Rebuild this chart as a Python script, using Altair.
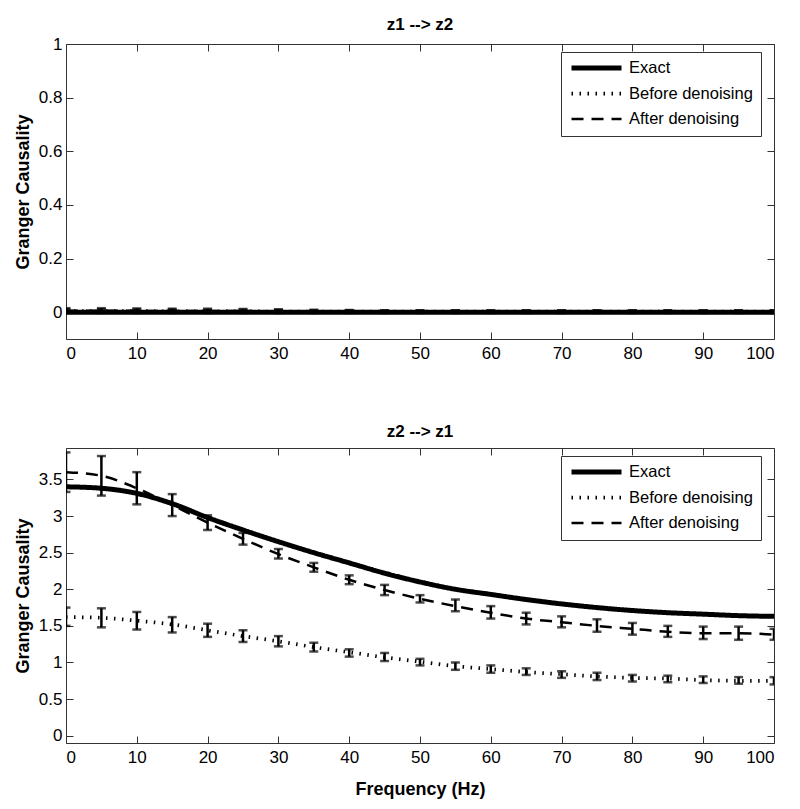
import altair as alt
import pandas as pd

series_names = ["Exact", "Before denoising", "After denoising"]
freq = [0, 5, 10, 15, 20, 25, 30, 35, 40, 45, 50, 55, 60, 65, 70, 75, 80, 85, 90, 95, 100]
x_ticks = [0, 10, 20, 30, 40, 50, 60, 70, 80, 90, 100]

# ---- panel 1: z1 --> z2 ----
top_exact = [0.0, 0.0, 0.0, 0.0, 0.0, 0.0, 0.0, 0.0, 0.0, 0.0, 0.0,
             0.0, 0.0, 0.0, 0.0, 0.0, 0.0, 0.0, 0.0, 0.0, 0.0]
top_before = [0.004, 0.004, 0.004, 0.003, 0.003, 0.003, 0.002, 0.002, 0.002, 0.002, 0.002,
              0.002, 0.002, 0.002, 0.002, 0.002, 0.002, 0.002, 0.002, 0.002, 0.002]
top_before_lo = [-0.002, -0.002, -0.002, -0.002, -0.002, -0.002, -0.002, -0.002, -0.002, -0.002, -0.002,
                 -0.002, -0.002, -0.002, -0.002, -0.002, -0.002, -0.002, -0.002, -0.002, -0.002]
top_before_hi = [0.011, 0.011, 0.010, 0.010, 0.009, 0.009, 0.008, 0.007, 0.007, 0.006, 0.006,
                 0.006, 0.006, 0.006, 0.006, 0.006, 0.006, 0.006, 0.006, 0.006, 0.006]
top_after = [0.005, 0.005, 0.005, 0.004, 0.004, 0.004, 0.003, 0.003, 0.003, 0.003, 0.003,
             0.003, 0.003, 0.003, 0.003, 0.003, 0.003, 0.003, 0.003, 0.003, 0.003]
top_after_lo = [-0.003, -0.003, -0.003, -0.003, -0.003, -0.003, -0.003, -0.003, -0.003, -0.003, -0.003,
                -0.003, -0.003, -0.003, -0.003, -0.003, -0.003, -0.003, -0.003, -0.003, -0.003]
top_after_hi = [0.015, 0.015, 0.014, 0.013, 0.013, 0.012, 0.011, 0.009, 0.008, 0.007, 0.007,
                0.007, 0.007, 0.007, 0.007, 0.007, 0.007, 0.007, 0.007, 0.007, 0.007]
top_y_ticks = [0, 0.2, 0.4, 0.6, 0.8, 1]
top_y_domain = [-0.1, 1.0]

# ---- panel 2: z2 --> z1 ----
bot_exact = [3.40, 3.38, 3.31, 3.17, 2.98, 2.81, 2.65, 2.50, 2.36, 2.22, 2.10,
             2.00, 1.93, 1.86, 1.80, 1.75, 1.71, 1.68, 1.66, 1.64, 1.63]
bot_before = [1.62, 1.61, 1.57, 1.52, 1.44, 1.36, 1.29, 1.21, 1.14, 1.07, 1.01,
              0.95, 0.91, 0.87, 0.84, 0.81, 0.79, 0.78, 0.76, 0.75, 0.75]
bot_before_lo = [1.50, 1.48, 1.45, 1.41, 1.35, 1.28, 1.22, 1.15, 1.08, 1.02, 0.96,
                 0.90, 0.86, 0.83, 0.79, 0.76, 0.74, 0.73, 0.72, 0.71, 0.70]
bot_before_hi = [1.75, 1.74, 1.69, 1.62, 1.53, 1.44, 1.36, 1.27, 1.18, 1.13, 1.05,
                 1.00, 0.96, 0.92, 0.88, 0.86, 0.83, 0.82, 0.81, 0.80, 0.80]
bot_after = [3.60, 3.55, 3.38, 3.15, 2.91, 2.69, 2.48, 2.30, 2.13, 1.99, 1.87,
             1.77, 1.68, 1.60, 1.55, 1.50, 1.46, 1.42, 1.40, 1.40, 1.38]
bot_after_lo = [3.33, 3.28, 3.16, 3.00, 2.81, 2.61, 2.42, 2.24, 2.07, 1.92, 1.82,
                1.70, 1.60, 1.52, 1.48, 1.42, 1.38, 1.35, 1.32, 1.31, 1.31]
bot_after_hi = [3.87, 3.82, 3.60, 3.30, 3.01, 2.77, 2.55, 2.36, 2.19, 2.06, 1.92,
                1.86, 1.77, 1.68, 1.63, 1.59, 1.54, 1.50, 1.49, 1.49, 1.46]
bot_y_ticks = [0, 0.5, 1, 1.5, 2, 2.5, 3, 3.5]
bot_y_domain = [-0.1, 3.93]

LABEL_FONT = "Liberation Sans"
TITLE_FONT = "Liberation Sans"
FRAME = "#333333"

dash_scale = alt.Scale(domain=series_names, range=[[1, 0], [1.5, 6.5], [12, 8]])
width_scale = alt.Scale(domain=series_names, range=[5, 2.5, 3])


def line_frame(exact, before, after):
    rows = []
    for name, vals in zip(series_names, [exact, before, after]):
        for f, v in zip(freq, vals):
            rows.append({"freq": f, "value": v, "series": name})
    return pd.DataFrame(rows)


def err_frame(before_lo, before_hi, after_lo, after_hi):
    rows = []
    for name, lo, hi in [("Before denoising", before_lo, before_hi),
                         ("After denoising", after_lo, after_hi)]:
        for f, a, b in zip(freq, lo, hi):
            rows.append({"freq": f, "lo": a, "hi": b, "series": name})
    return pd.DataFrame(rows)


def panel(title, lines, errs, y_domain, y_ticks, x_title, title_offset):
    xs = alt.Scale(domain=[0, 100], nice=False, zero=False)
    ys = alt.Scale(domain=y_domain, nice=False, zero=False)
    legend = alt.Legend(
        title=None, orient="none", legendX=495, legendY=8,
        symbolType="stroke", symbolSize=2500, clipHeight=16,
        rowPadding=8.5, padding=8, labelOffset=5,
        labelFont=LABEL_FONT, labelFontSize=16.5, labelColor="black",
        fillColor="white", strokeColor=FRAME, symbolStrokeColor="black",
    )
    x_main = alt.X("freq:Q", scale=xs, axis=alt.Axis(
        orient="bottom", values=x_ticks, offset=-7, tickSize=7, labelPadding=6,
        title=x_title if x_title else None, titlePadding=15,
    ))
    y_main = alt.Y("value:Q", scale=ys, axis=alt.Axis(
        orient="left", values=y_ticks, offset=-7, tickSize=7, labelPadding=4,
        format="~g", title="Granger Causality", titlePadding=6,
    ))
    line_layer = alt.Chart(lines).mark_line(color="black", clip=True, interpolate="monotone").encode(
        x=x_main, y=y_main,
        strokeDash=alt.StrokeDash("series:N", scale=dash_scale, legend=legend),
        strokeWidth=alt.StrokeWidth("series:N", scale=width_scale, legend=legend),
        detail="series:N",
    )
    tick_layer = alt.Chart(lines).mark_line(opacity=0).encode(
        x=alt.X("freq:Q", scale=xs, axis=alt.Axis(
            orient="top", values=x_ticks, offset=-7, tickSize=7, labels=False, title=None)),
        y=alt.Y("value:Q", scale=ys, axis=alt.Axis(
            orient="right", values=y_ticks, offset=-7, tickSize=7, labels=False, title=None)),
        detail="series:N",
    )
    x_none = alt.X("freq:Q", scale=xs, axis=None)
    bars = alt.Chart(errs).mark_rule(color="black", strokeWidth=2.5, clip=True).encode(
        x=x_none,
        y=alt.Y("lo:Q", scale=ys, axis=None),
        y2="hi:Q",
    )
    cap_lo = alt.Chart(errs).mark_tick(color="black", orient="horizontal", size=9,
                                       thickness=2.5, clip=True).encode(
        x=x_none, y=alt.Y("lo:Q", scale=ys, axis=None))
    cap_hi = alt.Chart(errs).mark_tick(color="black", orient="horizontal", size=9,
                                       thickness=2.5, clip=True).encode(
        x=x_none, y=alt.Y("hi:Q", scale=ys, axis=None))
    return alt.layer(tick_layer, bars, cap_lo, cap_hi, line_layer).resolve_axis(
        x="independent", y="independent"
    ).properties(
        width=708, height=295,
        title=alt.TitleParams(title, font=TITLE_FONT, fontSize=17, fontWeight="bold",
                              color="black", offset=title_offset, anchor="middle"),
    )


top = panel("z1 --> z2",
            line_frame(top_exact, top_before, top_after),
            err_frame(top_before_lo, top_before_hi, top_after_lo, top_after_hi),
            top_y_domain, top_y_ticks, None, 1)
bottom = panel("z2 --> z1",
               line_frame(bot_exact, bot_before, bot_after),
               err_frame(bot_before_lo, bot_before_hi, bot_after_lo, bot_after_hi),
               bot_y_domain, bot_y_ticks, "Frequency (Hz)", 7)

chart = alt.vconcat(top, bottom, spacing=60).resolve_legend(
    strokeDash="independent", strokeWidth="independent"
).properties(
    padding={"top": 7, "left": 5, "right": 5, "bottom": 0}
).configure_view(
    stroke=FRAME, strokeWidth=1
).configure_axis(
    domain=False, grid=False, tickColor=FRAME, tickWidth=1,
    labelFont=LABEL_FONT, labelFontSize=17, labelColor="black",
    titleFont=TITLE_FONT, titleFontSize=18, titleFontWeight="bold", titleColor="black",
)

chart.save("out.html", embed_options={"renderer": "svg", "actions": False})
